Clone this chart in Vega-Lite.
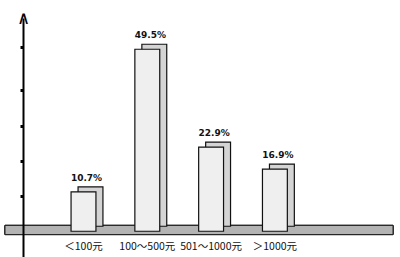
{
  "$schema": "https://vega.github.io/schema/vega-lite/v6.json",
  "autosize": {"type": "none"},
  "width": 388,
  "height": 239,
  "padding": {"left": 5, "top": 18, "right": 7, "bottom": 0},
  "background": "white",
  "config": {"view": {"stroke": null}},
  "data": {
    "values": [
      {"range": "＜100元", "share": 10.7, "label": "10.7%"},
      {"range": "100～500元", "share": 49.5, "label": "49.5%"},
      {"range": "501～1000元", "share": 22.9, "label": "22.9%"},
      {"range": "＞1000元", "share": 16.9, "label": "16.9%"}
    ]
  },
  "layer": [
    {
      "mark": {"type": "rect", "fill": "#b3b3b3", "stroke": "#222", "strokeWidth": 1},
      "encoding": {
        "y": {"datum": 1.6, "type": "quantitative", "scale": {"domain": [-7, 58], "nice": false, "zero": false}},
        "y2": {"datum": -0.9}
      }
    },
    {
      "mark": {"type": "bar", "fill": "#d4d4d4", "stroke": "#111", "strokeWidth": 1.2, "xOffset": 7, "x2Offset": 7, "yOffset": -5, "y2Offset": -5},
      "encoding": {
        "x": {
          "field": "range",
          "type": "nominal",
          "sort": null,
          "scale": {"range": [46.6, 301.8], "paddingInner": 0.61, "paddingOuter": 0.305},
          "axis": null
        },
        "y": {"field": "share", "type": "quantitative", "scale": {"domain": [-7, 58], "nice": false, "zero": false},
          "axis": {"values": [9.5, 19, 28.5, 38.5, 50], "labels": false, "grid": false, "offset": -18, "zindex": 1,
            "domainColor": "#000", "domainWidth": 2, "tickColor": "#000", "tickSize": 3, "tickWidth": 3,
            "title": "∧", "titleAngle": 0, "titleX": 0, "titleY": -9, "titleAlign": "center", "titleBaseline": "top",
            "titleFont": "DejaVu Sans", "titleFontSize": 18, "titleFontWeight": "normal", "titleColor": "#000"}},
        "y2": {"datum": 0}
      }
    },
    {
      "mark": {"type": "bar", "fill": "#efefef", "stroke": "#111", "strokeWidth": 1.2},
      "encoding": {
        "x": {"field": "range", "type": "nominal", "sort": null},
        "y": {"field": "share", "type": "quantitative"},
        "y2": {"datum": 0}
      }
    },
    {
      "mark": {"type": "text", "dy": -14, "xOffset": 3, "font": "DejaVu Sans", "fontSize": 9, "fontWeight": "bold", "fill": "#111"},
      "encoding": {
        "x": {"field": "range", "type": "nominal", "sort": null},
        "y": {"field": "share", "type": "quantitative"},
        "text": {"field": "label"}
      }
    },
    {
      "mark": {"type": "text", "font": "Noto Sans CJK SC", "fontSize": 10.5, "fill": "#111", "baseline": "middle"},
      "encoding": {
        "x": {"field": "range", "type": "nominal", "sort": null},
        "y": {"datum": -4.3},
        "text": {"field": "range"}
      }
    }
  ]
}
